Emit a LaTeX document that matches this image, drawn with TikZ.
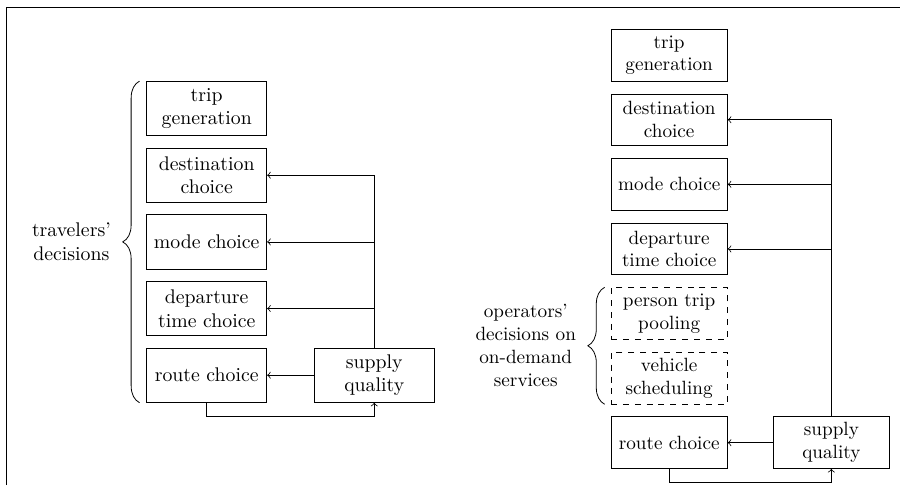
\documentclass[tikz,border=0pt]{standalone}
\usepackage{tikz}
\usetikzlibrary{positioning,decorations.pathreplacing}
\newcommand{\braceAmplitude}[0]{8.5pt}
\newcommand{\braceGap}[0]{3.4pt}
\newcommand{\loopDrop}[0]{6.7pt}

\begin{document}
\begin{tikzpicture}
  \tikzset{decision/.style={draw, align=center, inner sep=2pt, minimum width=60.7pt, minimum height=27.4pt},
    operator/.style={decision, dashed},
    brace/.style={decorate, decoration={brace, amplitude=\braceAmplitude}}}
  \useasboundingbox (0,0) rectangle (455pt,245.2pt);
  \draw (3.4pt,0) -- (3.4pt,241.5pt) -- (455pt,241.5pt);
  \begin{scope}[node distance=5.9pt]
    \node[decision] (trip-1) at (104.5pt,190.3pt) {trip\\generation};
    \node[decision, below=of trip-1] (dest-1) {destination\\choice};
    \node[decision, below=of dest-1] (mode-1) {mode choice};
    \node[decision, below=of mode-1] (depart-1) {departure\\time choice};
    \node[decision, below=of depart-1] (route-1) {route choice};
    \node[decision, right=23.6pt of route-1] (supply-1) {supply\\quality};
  \end{scope}
  \draw[->] (supply-1.north) |- (dest-1.east);
  \draw[->] (supply-1.north |- mode-1.east) -- (mode-1.east);
  \draw[->] (supply-1.north |- depart-1.east) -- (depart-1.east);
  \draw[->] (supply-1) -- (route-1);
  \draw[->] (route-1.south) -- ++(0,-\loopDrop) -| (supply-1.south);
  \draw[brace] ([xshift=-\braceGap]route-1.south west) -- ([xshift=-\braceGap]trip-1.north west)
    node[midway, left=11pt, align=center] (travelers) {travelers'\\decisions};
  \begin{scope}[node distance=6.15pt, font=\fontsize{9.7pt}{11.6pt}\selectfont,
      decision/.append style={minimum width=58.8pt, minimum height=26.1pt}]
    \node[decision] (trip-2) at (338.3pt,217.3pt) {trip\\generation};
    \node[decision, below=of trip-2] (dest-2) {destination\\choice};
    \node[decision, below=of dest-2] (mode-2) {mode choice};
    \node[decision, below=of mode-2] (depart-2) {departure\\time choice};
    \node[operator, below=of depart-2] (pool-2) {person trip\\pooling};
    \node[operator, below=of pool-2] (vehicle-2) {vehicle\\scheduling};
    \node[decision, below=of vehicle-2] (route-2) {route choice};
    \node[decision, right=22.8pt of route-2] (supply-2) {supply\\quality};
    \draw[->] (supply-2.north) |- (dest-2.east);
    \draw[->] (supply-2.north |- mode-2.east) -- (mode-2.east);
    \draw[->] (supply-2.north |- depart-2.east) -- (depart-2.east);
    \draw[->] (supply-2) -- (route-2);
    \draw[->] (route-2.south) -- ++(0,-6.6pt) -| (supply-2.south);
    \draw[brace] ([xshift=-3pt]vehicle-2.south west) -- ([xshift=-3pt]pool-2.north west)
      node[midway, left=11pt, align=center] (operators) {operators'\\decisions on\\on-demand\\services};
  \end{scope}
\end{tikzpicture}
\end{document}
